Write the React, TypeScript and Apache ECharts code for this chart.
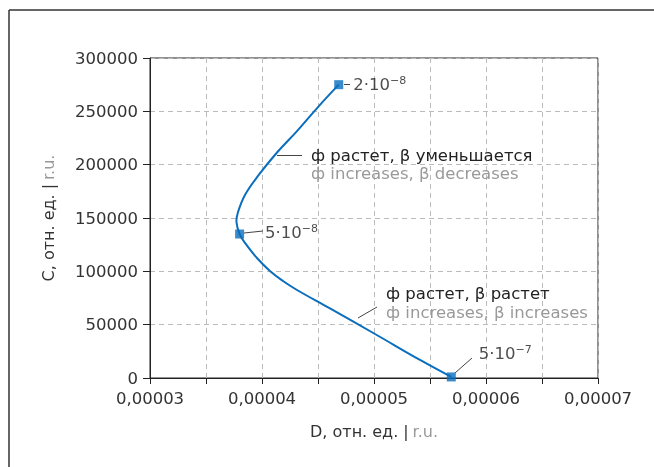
import React, { useEffect, useRef } from "react";
import * as echarts from "echarts";

// Curve: D (r.u.) vs C (r.u.)
const curveD = [4.685e-5, 4.50e-5, 4.3125e-5, 4.134e-5, 3.964e-5, 3.848e-5, 3.786e-5, 3.772e-5, 3.80e-5, 3.848e-5, 3.955e-5, 4.071e-5, 4.1875e-5, 4.3125e-5, 4.607e-5, 5.009e-5, 5.411e-5, 5.69e-5];
const curveC = [275000, 254000, 231500, 211400, 189400, 171600, 155600, 146250, 135000, 126600, 112500, 100300, 90900, 82500, 65200, 41250, 16900, 1000];

// Marked points with their β values
const markerD = [4.685e-5, 3.80e-5, 5.69e-5];
const markerC = [275000, 135000, 1000];
const markerBase = ["2·10", "5·10", "5·10"];
const markerExp = ["−8", "−8", "−7"];

const yTicks = [0, 50000, 100000, 150000, 200000, 250000, 300000];
const xLabelValues = ["0,00003", "0,00004", "0,00005", "0,00006", "0,00007"];

const FONT = "DejaVu Sans";
const BLUE = "#0a6ebd";
const FS = 16.5;

export default function App() {
  const ref = useRef<HTMLDivElement>(null);
  useEffect(() => {
    const chart = echarts.init(ref.current!, null, { renderer: "svg" });
    const lineData = curveD.map((d, i) => [d, curveC[i]]);
    const markerData = markerD.map((d, i) => {
      const offsets = [
        { distance: 10, offset: [0, 0] },
        { distance: 21, offset: [0, -2] },
        { distance: 23, offset: [0, -23] },
      ][i];
      return {
        value: [d, markerC[i]],
        label: {
          show: true,
          position: "right",
          distance: offsets.distance,
          offset: offsets.offset,
          formatter: `{b|${markerBase[i]}}{s|${markerExp[i]}}`,
          rich: {
            b: { fontFamily: FONT, fontSize: FS, color: "#222", lineHeight: 19 },
            s: { fontFamily: FONT, fontSize: 11, color: "#222", lineHeight: 19, verticalAlign: "top" },
          },
        },
      };
    });
    const p2d = (x: number) => 3e-5 + (x - 150) * (4e-5 / 448);
    const p2c = (y: number) => (378 - y) * 937.5;
    const leader = (x1: number, y1: number, x2: number, y2: number) => [
      { coord: [p2d(x1), p2c(y1)] },
      { coord: [p2d(x2), p2c(y2)] },
    ];
    chart.setOption({
      animation: false,
      textStyle: { fontFamily: FONT },
      grid: { left: 150, right: 56, top: 58, bottom: 89, show: true, borderColor: "#222", borderWidth: 1 },
      xAxis: {
        type: "value",
        min: 3e-5,
        max: 7e-5,
        interval: 5e-6,
        axisLine: { show: true, lineStyle: { color: "#222", width: 1 } },
        axisTick: { show: true, inside: false, length: 6, lineStyle: { color: "#222" } },
        splitLine: { show: true, lineStyle: { color: "#bbb", type: [5, 4] } },
        axisLabel: {
          fontFamily: FONT,
          fontSize: FS,
          color: "#333",
          margin: 12,
          formatter: (v: number) => {
            const k = Math.round(v * 1e6);
            if (k % 10 !== 0) return "";
            const idx = k / 10 - 3;
            return xLabelValues[idx] ?? "";
          },
        },
        name: "{a|D, отн. ед. |} {b|r.u.}",
        nameLocation: "middle",
        nameGap: 45,
        nameTextStyle: {
          rich: {
            a: { fontFamily: FONT, fontSize: 16, color: "#333" },
            b: { fontFamily: FONT, fontSize: 16, color: "#999" },
          },
        },
      },
      yAxis: {
        type: "value",
        min: 0,
        max: 300000,
        interval: 50000,
        axisLine: { show: true, lineStyle: { color: "#222", width: 1 } },
        axisTick: { show: true, inside: false, length: 7, lineStyle: { color: "#222" } },
        splitLine: { show: true, lineStyle: { color: "#bbb", type: [5, 4] } },
        axisLabel: {
          fontFamily: FONT,
          fontSize: FS,
          color: "#333",
          margin: 12,
          formatter: (v: number) => (yTicks.includes(v) ? String(v) : ""),
        },
        name: "{a|C, отн. ед. |} {b|r.u.}",
        nameLocation: "middle",
        nameGap: 94,
        nameTextStyle: {
          rich: {
            a: { fontFamily: FONT, fontSize: 16, color: "#333" },
            b: { fontFamily: FONT, fontSize: 16, color: "#999" },
          },
        },
      },
      series: [
        {
          type: "custom",
          data: lineData,
          silent: true,
          renderItem: (params: any, api: any) => {
            if (params.dataIndex !== 0) return null;
            const pts = curveD.map((d, i) => api.coord([d, curveC[i]]));
            return {
              type: "polyline",
              shape: { points: pts, smooth: 0.4 },
              style: { stroke: BLUE, lineWidth: 2, fill: null },
            };
          },
          z: 2,
        },
        {
          type: "scatter",
          data: markerData,
          symbol: "rect",
          symbolSize: 9,
          itemStyle: { color: BLUE },
          z: 3,
          markLine: {
            silent: true,
            symbol: "none",
            label: { show: false },
            lineStyle: { color: "#444", width: 1, type: "solid" },
            data: [
              leader(344, 84, 350, 84),
              leader(244, 233, 263, 231),
              leader(455, 373, 472, 358),
              leader(277, 155, 302, 155),
              leader(358, 318, 377, 307),
            ],
          },
          markPoint: {
            silent: true,
            symbol: "circle",
            symbolSize: 0,
            data: [
              {
                coord: [p2d(311), p2c(164)],
                label: {
                  show: true,
                  position: "right",
                  distance: 0,
                  formatter: "{a|ф растет, β уменьшается}\n{b|ф increases, β decreases}",
                  rich: {
                    a: { fontFamily: FONT, fontSize: FS, color: "#222", lineHeight: 18 },
                    b: { fontFamily: FONT, fontSize: FS, color: "#999", lineHeight: 18 },
                  },
                },
              },
              {
                coord: [p2d(386), p2c(302.5)],
                label: {
                  show: true,
                  position: "right",
                  distance: 0,
                  formatter: "{a|ф растет, β растет}\n{b|ф increases, β increases}",
                  rich: {
                    a: { fontFamily: FONT, fontSize: FS, color: "#222", lineHeight: 19 },
                    b: { fontFamily: FONT, fontSize: FS, color: "#999", lineHeight: 19 },
                  },
                },
              },
            ],
          },
        },
      ],
      graphic: [
        { type: "line", shape: { x1: 9, y1: 10, x2: 9, y2: 467 }, style: { stroke: "#333", lineWidth: 1.5 } },
        { type: "line", shape: { x1: 9, y1: 10, x2: 654, y2: 10 }, style: { stroke: "#333", lineWidth: 1.5 } },
      ],
    });
    return () => chart.dispose();
  }, []);
  return <div ref={ref} style={{ position: "fixed", left: 0, top: 0, width: 654, height: 467 }} />;
}
